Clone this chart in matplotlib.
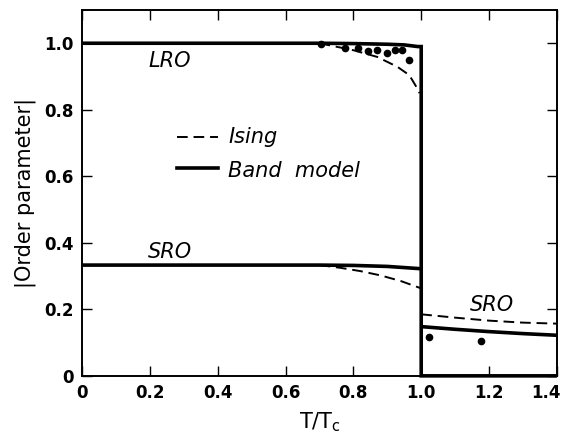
import matplotlib
matplotlib.use("Agg")
import matplotlib.pyplot as plt
from matplotlib.transforms import ScaledTranslation

# band model, long range order (drops to zero at Tc, then lies on the axis)
lro_band_t = [0.0, 0.70, 0.80, 0.90, 0.95, 0.99, 1.0, 1.0, 1.4]
lro_band = [1.0, 1.0, 0.999, 0.997, 0.995, 0.99, 0.99, 0.0, 0.0]

# Ising, long range order
lro_ising_t = [0.70, 0.80, 0.87, 0.93, 0.965, 0.985, 0.995]
lro_ising = [1.0, 0.979, 0.959, 0.929, 0.904, 0.87, 0.85]

# short range order below Tc
sro_band_t = [0.0, 0.70, 0.80, 0.90, 1.0]
sro_band = [0.333, 0.333, 0.332, 0.329, 0.322]
sro_ising_t = [0.70, 0.76, 0.82, 0.88, 0.94, 1.0]
sro_ising = [0.333, 0.325, 0.315, 0.302, 0.285, 0.263]

# short range order above Tc
sro_hi_t = [1.0, 1.1, 1.2, 1.3, 1.4]
sro_band_hi = [0.148, 0.140, 0.133, 0.127, 0.122]
sro_ising_hi = [0.185, 0.175, 0.166, 0.160, 0.157]

# experimental points
exp_t = [0.703, 0.774, 0.815, 0.842, 0.869, 0.899, 0.922, 0.943, 0.964, 1.024, 1.176]
exp_op = [0.997, 0.987, 0.987, 0.977, 0.981, 0.972, 0.979, 0.979, 0.951, 0.116, 0.106]

x_ticks = [0, 0.2, 0.4, 0.6, 0.8, 1.0, 1.2, 1.4]
x_labels = ["0", "0.2", "0.4", "0.6", "0.8", "1.0", "1.2", "1.4"]
y_ticks = [0, 0.2, 0.4, 0.6, 0.8, 1.0]
y_labels = ["0", "0.2", "0.4", "0.6", "0.8", "1.0"]

fig = plt.figure(figsize=(5.63, 4.34), dpi=100)
ax = fig.add_axes([0.146, 0.134, 0.843, 0.843])

band_kw = dict(color="black", lw=2.6, solid_capstyle="butt", solid_joinstyle="miter", clip_on=False)
dash_kw = dict(color="black", lw=1.4, ls=(0, (5.5, 3)))

ax.plot(lro_band_t, lro_band, **band_kw)
ax.plot(sro_band_t, sro_band, **band_kw)
ax.plot(sro_hi_t, sro_band_hi, **band_kw)
ax.plot(lro_ising_t, lro_ising, **dash_kw)
ax.plot(sro_ising_t, sro_ising, **dash_kw)
ax.plot(sro_hi_t, sro_ising_hi, **dash_kw)
ax.plot(exp_t, exp_op, "o", color="black", ms=4.5)

ax.set_xlim(0, 1.4)
ax.set_ylim(0, 1.1)
ax.set_xticks(x_ticks)
ax.set_xticklabels(x_labels)
ax.set_yticks(y_ticks)
ax.set_yticklabels(y_labels)
ax.tick_params(direction="in", length=7, width=1.0, top=True, right=True,
               labelsize=12, pad=6)
for lab in ax.get_xticklabels() + ax.get_yticklabels():
    lab.set_fontweight("bold")
# last x label sits against the figure edge, nudge it in
last = ax.get_xticklabels()[-1]
last.set_transform(last.get_transform() + ScaledTranslation(-11 / 100, 0, fig.dpi_scale_trans))
for s in ax.spines.values():
    s.set_linewidth(1.4)

ax.set_xlabel(r"T/T$_\mathregular{c}$", fontsize=15, labelpad=6)
ax.set_ylabel("|Order parameter|", fontsize=15, labelpad=6)

txt = dict(fontsize=15, style="italic", color="black")
ax.text(0.195, 0.947, "LRO", ha="left", va="center", **txt)
ax.text(0.195, 0.373, "SRO", ha="left", va="center", **txt)
ax.text(1.21, 0.213, "SRO", ha="center", va="center", **txt)

# hand-drawn key
ax.plot([0.28, 0.40], [0.718, 0.718], **dash_kw)
ax.plot([0.28, 0.40], [0.625, 0.625], color="black", lw=2.6)
ax.text(0.43, 0.718, "Ising", ha="left", va="center", **txt)
ax.text(0.43, 0.615, "Band  model", ha="left", va="center", **txt)

fig.savefig("out.png", dpi=100)
